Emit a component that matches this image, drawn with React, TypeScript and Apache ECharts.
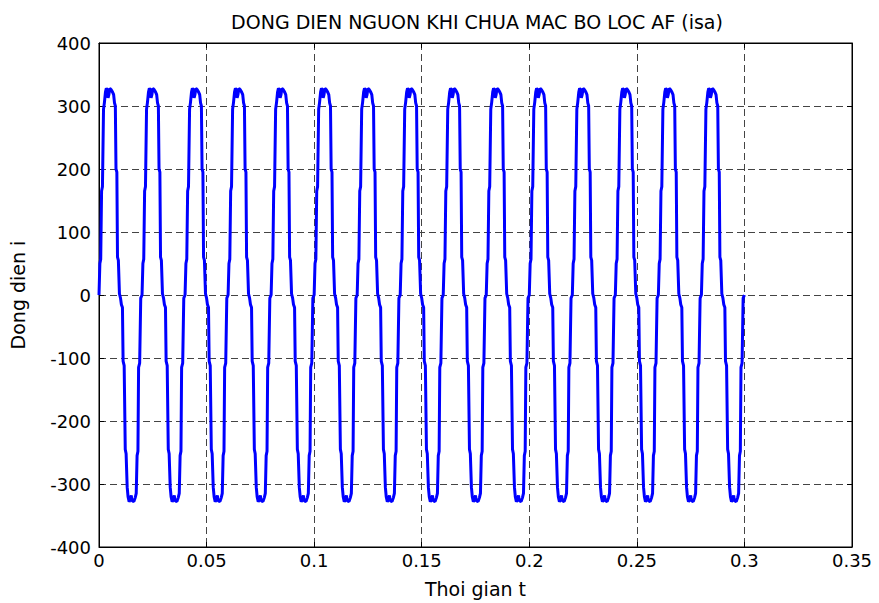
import React, { useEffect, useRef } from "react";
import * as echarts from "echarts";

// One 20 ms cycle of the phase-a source current: [time offset (ms), current]
const cycleTimesMs = [
  0.0, 0.4, 0.8, 1.2, 1.6, 2.1, 2.5, 3.0, 3.4, 3.9, 4.2, 4.6, 5.0, 5.6, 6.3, 6.8,
  7.2, 7.6, 7.9, 8.3, 8.6, 9.0, 9.5, 10.0, 10.4, 10.9, 11.2, 11.7, 12.2, 12.6,
  13.1, 13.5, 14.0, 14.5, 15.0, 15.3, 16.2, 16.8, 17.3, 17.7, 18.1, 18.4, 18.9,
  19.4,
];
const cycleCurrent = [
  0, 50, 57, 165, 172, 295, 305, 322, 328, 326, 313, 318, 328, 326, 322, 318,
  305, 300, 200, 195, 60, 55, 2, -5, -15, -20, -105, -112, -245, -252,
  -305, -320, -328, -325, -318, -326, -328, -322, -315, -255, -248, -115, -108,
  -5,
];
const cycleCount = 15;
const periodS = 0.02;
const endValue = 0;

const xTicks = [0, 0.05, 0.1, 0.15, 0.2, 0.25, 0.3, 0.35];
const yTicks = [-400, -300, -200, -100, 0, 100, 200, 300, 400];

const titleText = "DONG DIEN NGUON KHI CHUA MAC BO LOC AF (isa)";
const xName = "Thoi gian t";
const yName = "Dong dien i";

function buildSeries(): [number, number][] {
  const pts: [number, number][] = [];
  for (let k = 0; k < cycleCount; k++) {
    for (let i = 0; i < cycleTimesMs.length; i++) {
      pts.push([k * periodS + cycleTimesMs[i] / 1000, cycleCurrent[i]]);
    }
  }
  pts.push([cycleCount * periodS, endValue]);
  return pts;
}

const FONT = "DejaVu Sans";

export default function App() {
  const ref = useRef<HTMLDivElement>(null);

  useEffect(() => {
    document.body.style.margin = "0";
    const chart = echarts.init(ref.current!, null, { renderer: "svg" });
    const gridLine = {
      show: true,
      lineStyle: { color: "#444", type: [7, 4] as number[], width: 1 },
    };
    const tickStyle = { show: true, inside: true, length: 5, lineStyle: { color: "#000" } };
    const xMin = xTicks[0];
    const xMax = xTicks[xTicks.length - 1];
    const yMin = yTicks[0];
    const yMax = yTicks[yTicks.length - 1];
    chart.setOption({
      animation: false,
      backgroundColor: "#fff",
      title: {
        text: titleText,
        left: 472,
        textAlign: "center",
        top: 7,
        textStyle: { fontFamily: FONT, fontSize: 19, fontWeight: "normal", color: "#000" },
      },
      grid: {
        left: 99,
        right: 27,
        top: 43,
        bottom: 54,
        show: true,
        borderColor: "#000",
        borderWidth: 1,
        backgroundColor: "#fff",
      },
      xAxis: [
        {
          type: "value",
          min: xMin,
          max: xMax,
          interval: 0.05,
          name: xName,
          nameLocation: "middle",
          nameGap: 32,
          nameTextStyle: { fontFamily: FONT, fontSize: 19, color: "#000" },
          axisLine: { show: true, onZero: false, lineStyle: { color: "#000" } },
          axisTick: tickStyle,
          axisLabel: {
            fontFamily: FONT,
            fontSize: 18,
            color: "#000",
            margin: 4,
            formatter: (v: number) => String(Math.round(v * 100) / 100),
          },
          splitLine: gridLine,
        },
        {
          type: "value",
          position: "top",
          min: xMin,
          max: xMax,
          interval: 0.05,
          axisLine: { show: true, onZero: false, lineStyle: { color: "#000" } },
          axisTick: tickStyle,
          axisLabel: { show: false },
          splitLine: { show: false },
        },
      ],
      yAxis: [
        {
          type: "value",
          min: yMin,
          max: yMax,
          interval: 100,
          name: yName,
          nameLocation: "middle",
          nameGap: 72,
          nameTextStyle: { fontFamily: FONT, fontSize: 19, color: "#000" },
          axisLine: { show: true, onZero: false, lineStyle: { color: "#000" } },
          axisTick: tickStyle,
          axisLabel: { fontFamily: FONT, fontSize: 18, color: "#000", margin: 8 },
          splitLine: gridLine,
        },
        {
          type: "value",
          position: "right",
          min: yMin,
          max: yMax,
          interval: 100,
          axisLine: { show: true, onZero: false, lineStyle: { color: "#000" } },
          axisTick: tickStyle,
          axisLabel: { show: false },
          splitLine: { show: false },
        },
      ],
      series: [
        {
          type: "line",
          data: buildSeries(),
          showSymbol: false,
          symbol: "none",
          lineStyle: { color: "#0000ff", width: 3 },
          xAxisIndex: 0,
          yAxisIndex: 0,
        },
      ],
    });
    return () => chart.dispose();
  }, []);

  return <div ref={ref} style={{ width: 879, height: 603 }} />;
}
